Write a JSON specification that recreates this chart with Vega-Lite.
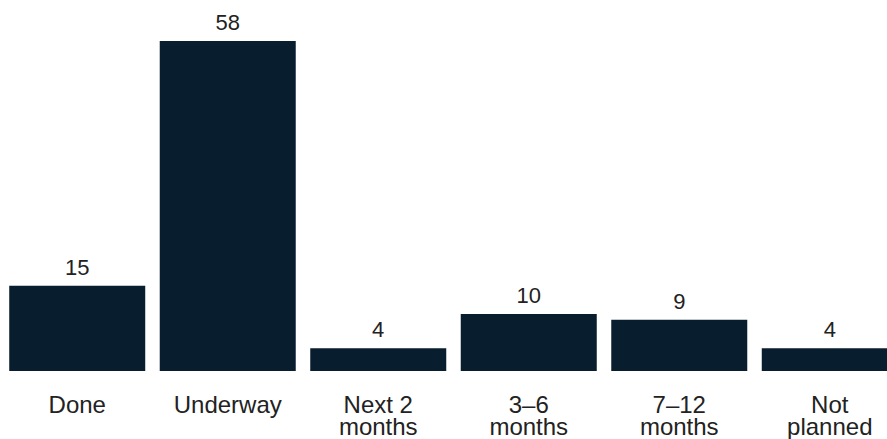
{
  "$schema": "https://vega.github.io/schema/vega-lite/v6.json",
  "autosize": {"type": "none"},
  "width": 885,
  "height": 330,
  "padding": {"left": 2, "top": 41, "right": 0, "bottom": 68},
  "background": "white",
  "config": {
    "view": {"stroke": null},
    "font": "Liberation Sans"
  },
  "data": {
    "values": [
      {"stage": "Done", "share": 15},
      {"stage": "Underway", "share": 58},
      {"stage": "Next 2|months", "share": 4},
      {"stage": "3–6|months", "share": 10},
      {"stage": "7–12|months", "share": 9},
      {"stage": "Not|planned", "share": 4}
    ]
  },
  "encoding": {
    "x": {
      "field": "stage",
      "type": "nominal",
      "sort": null,
      "scale": {"range": [0, 903], "paddingInner": 0.0963, "paddingOuter": 0.048},
      "axis": {
        "title": null,
        "domain": false,
        "ticks": false,
        "tickSize": 0,
        "labelAngle": 0,
        "labelPadding": 41,
        "labelBaseline": "alphabetic",
        "labelFont": "Liberation Sans",
        "labelFontSize": 24,
        "labelLineHeight": 22,
        "labelColor": "#222222",
        "labelExpr": "split(datum.label, '|')"
      }
    },
    "y": {
      "field": "share",
      "type": "quantitative",
      "scale": {"domain": [0, 58], "nice": false},
      "axis": null
    }
  },
  "layer": [
    {"mark": {"type": "bar", "color": "#081e2e"}},
    {
      "mark": {
        "type": "text",
        "baseline": "alphabetic",
        "dy": -11,
        "fontSize": 22,
        "color": "#222222",
        "font": "Liberation Sans"
      },
      "encoding": {"text": {"field": "share", "type": "quantitative"}}
    }
  ]
}
